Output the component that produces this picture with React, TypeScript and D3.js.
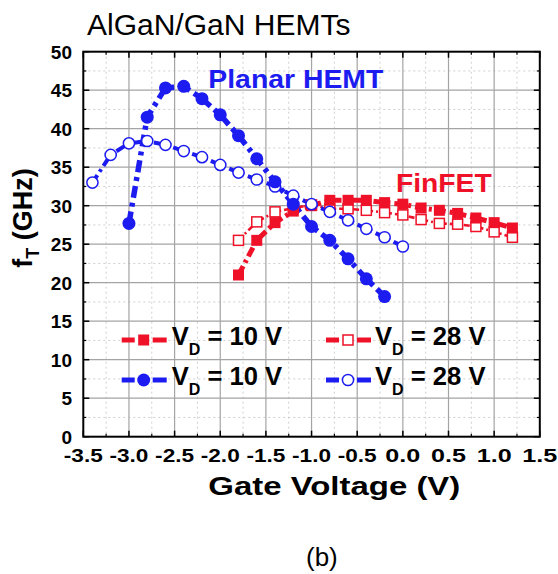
import React from "react";
import * as d3 from "d3";

// Planar HEMT, VD = 10 V
const planarVg10 = [-3.0, -2.8, -2.6, -2.4, -2.2, -2.0, -1.8, -1.6, -1.4, -1.2, -1.0, -0.8, -0.6, -0.4, -0.2];
const planarFt10 = [27.7, 41.5, 45.3, 45.5, 43.9, 41.8, 39.1, 36.1, 33.1, 30.2, 27.3, 25.5, 23.1, 20.5, 18.2];

// Planar HEMT, VD = 28 V
const planarVg28 = [-3.4, -3.2, -3.0, -2.8, -2.6, -2.4, -2.2, -2.0, -1.8, -1.6, -1.4, -1.2, -1.0, -0.8, -0.6, -0.4, -0.2, 0.0];
const planarFt28 = [33.0, 36.6, 38.1, 38.4, 37.9, 37.1, 36.3, 35.3, 34.3, 33.4, 32.5, 31.3, 30.2, 29.2, 28.1, 27.0, 25.9, 24.7];

// FinFET, VD = 10 V and 28 V
const finVg = [-1.8, -1.6, -1.4, -1.2, -1.0, -0.8, -0.6, -0.4, -0.2, 0.0, 0.2, 0.4, 0.6, 0.8, 1.0, 1.2];
const finFt10 = [21.0, 25.5, 27.8, 29.3, 30.0, 30.7, 30.7, 30.7, 30.4, 30.2, 29.7, 29.4, 29.0, 28.4, 27.8, 27.1];
const finFt28 = [25.5, 27.9, 29.2, 29.7, 30.1, 29.6, 29.6, 29.4, 29.1, 28.8, 28.2, 27.7, 27.6, 27.3, 26.6, 25.9];

const xTickValues = [-3.5, -3.0, -2.5, -2.0, -1.5, -1.0, -0.5, 0.0, 0.5, 1.0, 1.5];
const yTickValues = [0, 5, 10, 15, 20, 25, 30, 35, 40, 45, 50];

const BLUE = "#1c1cf0";
const RED = "#ee1128";
const FONT = "'Liberation Sans', Arial, Helvetica, sans-serif";

type Pt = [number, number];
const zip = (xs: number[], ys: number[]): Pt[] => xs.map((v, i) => [v, ys[i]]);

export default function App() {
  const W = 558;
  const H = 574;
  const x = d3.scaleLinear().domain([-3.5, 1.5]).range([83.3, 539.8]);
  const y = d3.scaleLinear().domain([0, 50]).range([436.7, 51.7]);
  const [x0, x1] = x.range();
  const [yb, yt] = y.range();

  const line = d3
    .line<Pt>()
    .x((d) => x(d[0]))
    .y((d) => y(d[1]));

  const xMinor = d3.range(-3.25, 1.5, 0.5);
  const yMinor = d3.range(2.5, 50, 5);

  const series = [
    { pts: zip(finVg, finFt28), color: RED, shape: "square", filled: false, width: 2.6, dash: "6,3,2,3" },
    { pts: zip(finVg, finFt10), color: RED, shape: "square", filled: true, width: 5, dash: "10,4,3,4" },
    { pts: zip(planarVg28, planarFt28), color: BLUE, shape: "circle", filled: false, width: 4, dash: "9,4,3,4" },
    { pts: zip(planarVg10, planarFt10), color: BLUE, shape: "circle", filled: true, width: 5.5, dash: "12,5,4,5" },
  ];

  const marker = (shape: string, filled: boolean, color: string, cx: number, cy: number, key: any) => {
    if (shape === "circle") {
      return filled ? (
        <circle key={key} cx={cx} cy={cy} r={6.5} fill={color} />
      ) : (
        <circle key={key} cx={cx} cy={cy} r={5.6} fill="#fff" stroke={color} strokeWidth={1.5} />
      );
    }
    const s = filled ? 11 : 10;
    return filled ? (
      <rect key={key} x={cx - s / 2} y={cy - s / 2} width={s} height={s} fill={color} />
    ) : (
      <rect key={key} x={cx - s / 2} y={cy - s / 2} width={s} height={s} fill="#fff" stroke={color} strokeWidth={1.5} />
    );
  };

  const fmt = (v: number) => d3.format(".1f")(v).replace("\u2212", "-");

  const legend = [
    { col: 0, row: 0, color: RED, shape: "square", filled: true, text: "10" },
    { col: 1, row: 0, color: RED, shape: "square", filled: false, text: "28" },
    { col: 0, row: 1, color: BLUE, shape: "circle", filled: true, text: "10" },
    { col: 1, row: 1, color: BLUE, shape: "circle", filled: false, text: "28" },
  ];

  return (
    <svg
      width={W}
      height={H}
      viewBox={`0 0 ${W} ${H}`}
      style={{ position: "absolute", left: 0, top: 0, background: "#fff" }}
      fontFamily={FONT}
    >
      <rect x={0} y={0} width={W} height={H} fill="#fff" />

      {/* minor grid */}
      {xMinor.map((v) => (
        <line key={"xm" + v} x1={x(v)} x2={x(v)} y1={yt} y2={yb} stroke="#cfcfcf" strokeWidth={1} strokeDasharray="2,3" />
      ))}
      {yMinor.map((v) => (
        <line key={"ym" + v} x1={x0} x2={x1} y1={y(v)} y2={y(v)} stroke="#cfcfcf" strokeWidth={1} strokeDasharray="2,3" />
      ))}
      {/* major grid */}
      {xTickValues.slice(1, -1).map((v) => (
        <line key={"xg" + v} x1={x(v)} x2={x(v)} y1={yt} y2={yb} stroke="#a4a4a4" strokeWidth={1.2} />
      ))}
      {yTickValues.slice(1, -1).map((v) => (
        <line key={"yg" + v} x1={x0} x2={x1} y1={y(v)} y2={y(v)} stroke="#a4a4a4" strokeWidth={1.2} />
      ))}

      {/* data lines */}
      {series.map((s, i) => (
        <path
          key={"l" + i}
          d={line(s.pts) || ""}
          fill="none"
          stroke={s.color}
          strokeWidth={s.width}
          strokeDasharray={s.dash}
        />
      ))}
      {/* data markers */}
      {series.map((s, i) => (
        <g key={"m" + i}>{s.pts.map((p, j) => marker(s.shape, s.filled, s.color, x(p[0]), y(p[1]), j))}</g>
      ))}

      {/* frame and ticks */}
      <rect x={x0} y={yt} width={x1 - x0} height={yb - yt} fill="none" stroke="#000" strokeWidth={2} />
      {xTickValues.map((v) => (
        <g key={"xt" + v}>
          <line x1={x(v)} x2={x(v)} y1={yb} y2={yb - 6} stroke="#000" strokeWidth={1.5} />
          <line x1={x(v)} x2={x(v)} y1={yt} y2={yt + 6} stroke="#000" strokeWidth={1.5} />
        </g>
      ))}
      {d3.range(-3.25, 1.5, 0.5).map((v) => (
        <g key={"xmt" + v}>
          <line x1={x(v)} x2={x(v)} y1={yb} y2={yb - 3} stroke="#000" strokeWidth={1.2} />
          <line x1={x(v)} x2={x(v)} y1={yt} y2={yt + 3} stroke="#000" strokeWidth={1.2} />
        </g>
      ))}
      {yTickValues.map((v) => (
        <g key={"yt" + v}>
          <line x1={x0} x2={x0 + 6} y1={y(v)} y2={y(v)} stroke="#000" strokeWidth={1.5} />
          <line x1={x1} x2={x1 - 6} y1={y(v)} y2={y(v)} stroke="#000" strokeWidth={1.5} />
        </g>
      ))}
      {yMinor.map((v) => (
        <g key={"ymt" + v}>
          <line x1={x0} x2={x0 + 3} y1={y(v)} y2={y(v)} stroke="#000" strokeWidth={1.2} />
          <line x1={x1} x2={x1 - 3} y1={y(v)} y2={y(v)} stroke="#000" strokeWidth={1.2} />
        </g>
      ))}

      {/* tick labels */}
      {xTickValues.map((v) => {
        const t = fmt(v);
        return (
          <text
            key={"xl" + v}
            x={x(v)}
            y={461.5}
            textAnchor="middle"
            fontSize={19}
            fontWeight="bold"
            textLength={t.startsWith("-") ? 39 : 35}
            lengthAdjust="spacingAndGlyphs"
          >
            {t}
          </text>
        );
      })}
      {yTickValues.map((v) => (
        <text key={"yl" + v} x={72} y={y(v) + 6.8} textAnchor="end" fontSize={19} fontWeight="bold">
          {String(v)}
        </text>
      ))}

      {/* axis titles */}
      <text x={208.3} y={495} fontSize={25.6} fontWeight="bold" textLength={252} lengthAdjust="spacingAndGlyphs">
        Gate Voltage (V)
      </text>
      <text transform="translate(31.5,218) rotate(-90)" textAnchor="middle" fontSize={27} fontWeight="bold">
        <tspan>f</tspan>
        <tspan fontSize={18} dy={7}>T</tspan>
        <tspan dy={-7}> (GHz)</tspan>
      </text>

      {/* chart title and annotations */}
      <text x={87} y={35} fontSize={30}>AlGaN/GaN HEMTs</text>
      <text x={208.3} y={88.3} fontSize={25.6} fontWeight="bold" fill={BLUE} textLength={175} lengthAdjust="spacingAndGlyphs">
        Planar HEMT
      </text>
      <text x={396} y={192.3} fontSize={26.5} fontWeight="bold" fill={RED} textLength={95.7} lengthAdjust="spacingAndGlyphs">
        FinFET
      </text>

      {/* legend */}
      {legend.map((l, i) => {
        const lx = l.col === 0 ? 121.7 : 326;
        const ly = 340 + l.row * 40;
        const mx = lx + 22;
        const tx = l.col === 0 ? 171.7 : 375;
        return (
          <g key={"lg" + i}>
            <line x1={lx} x2={mx - 9} y1={ly} y2={ly} stroke={l.color} strokeWidth={5} />
            <line x1={mx + 9} x2={lx + 45} y1={ly} y2={ly} stroke={l.color} strokeWidth={5} />
            {marker(l.shape, l.filled, l.color, mx, ly, "mk")}
            <text x={tx} y={ly + 5} fontSize={25.6} fontWeight="bold">
              <tspan>V</tspan>
              <tspan fontSize={16} dy={10}>D</tspan>
              <tspan dy={-10}>{" = " + l.text + " V"}</tspan>
            </text>
          </g>
        );
      })}

      <text x={306} y={566} fontSize={26}>(b)</text>
    </svg>
  );
}
